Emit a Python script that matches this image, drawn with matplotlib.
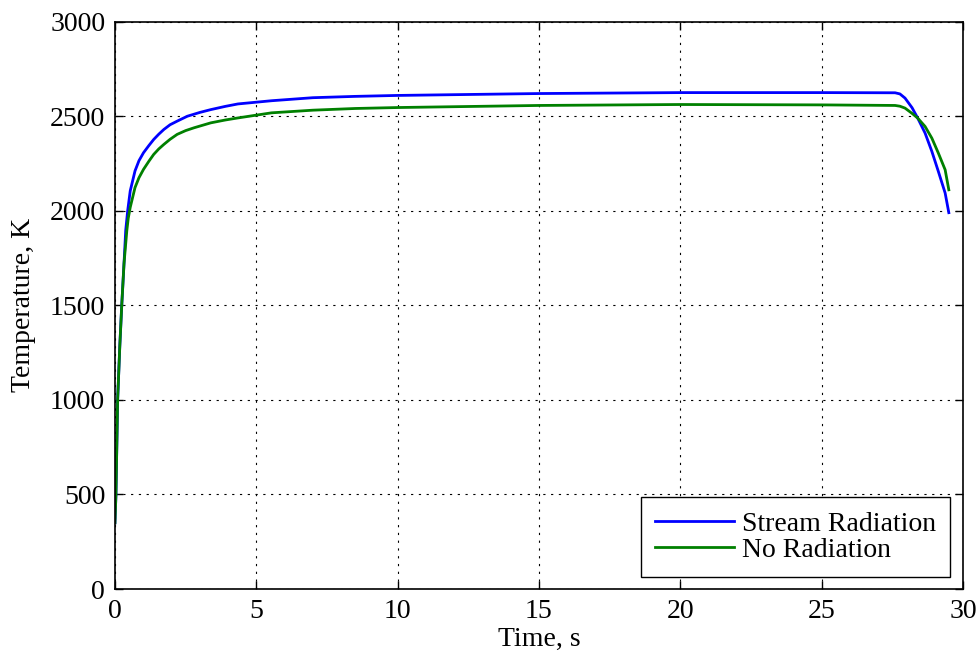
import numpy as np
import matplotlib.pyplot as plt

plt.rcParams['font.family'] = ['Liberation Serif', 'DejaVu Serif']

# time, s and temperature, K
t_stream = [0.0, 0.035, 0.095, 0.17, 0.24, 0.32, 0.38, 0.45, 0.54, 0.71, 0.85, 1.01,
            1.2, 1.37, 1.55, 1.73, 1.95, 2.2, 2.56, 3.0, 3.39, 3.9, 4.35, 5.54, 7.0,
            8.5, 10.0, 15.0, 20.0, 25.0, 27.6, 27.77, 27.95, 28.2, 28.4, 28.66, 28.9,
            29.13, 29.37, 29.5]
T_stream = [350, 500, 1000, 1280, 1500, 1720, 1895, 2000, 2105, 2211, 2265, 2307,
            2345, 2377, 2405, 2430, 2455, 2474, 2500, 2520, 2535, 2552, 2565, 2582, 2598,
            2605, 2610, 2620, 2625, 2625, 2624, 2618, 2596, 2545, 2490, 2411, 2314,
            2208, 2094, 1990]

t_norad = [0.0, 0.035, 0.095, 0.17, 0.24, 0.32, 0.42, 0.47, 0.54, 0.71, 0.85, 1.01,
           1.2, 1.37, 1.55, 1.73, 1.95, 2.2, 2.5, 2.8, 3.39, 3.9, 4.35, 5.54, 7.0,
           8.5, 10.0, 15.0, 20.0, 25.0, 27.6, 27.77, 27.95, 28.2, 28.4, 28.66, 28.9,
           29.13, 29.37, 29.5]
T_norad = [350, 500, 1000, 1280, 1500, 1720, 1895, 1960, 2018, 2123, 2175, 2219,
           2262, 2298, 2327, 2351, 2378, 2404, 2424, 2439, 2465, 2480, 2491, 2518, 2532,
           2541, 2546, 2557, 2562, 2560, 2557, 2553, 2543, 2515, 2490, 2446, 2384,
           2305, 2217, 2111]

fig = plt.figure(figsize=(9.8, 6.57), dpi=100)
ax = fig.add_axes([0.1173, 0.1035, 0.8653, 0.8635])

ax.plot(t_stream, T_stream, color=(0, 0, 1), lw=2, label='Stream Radiation')
ax.plot(t_norad, T_norad, color=(0, 0.5, 0), lw=2, label='No Radiation')

ax.set_xlim(0, 30)
ax.set_ylim(0, 3000)
ax.set_xticks(np.arange(0, 31, 5))
ax.set_yticks(np.arange(0, 3001, 500))
ax.grid(True, color='k', linestyle=(0, (2, 5)), linewidth=0.8)
ax.tick_params(direction='in', top=True, right=True, labelsize=20, length=6, width=1, pad=7)
for s in ax.spines.values():
    s.set_linewidth(1.2)

ax.set_xlabel('Time, s', fontsize=20, labelpad=2)
ax.set_ylabel('Temperature, K', fontsize=20, labelpad=10)

leg = ax.legend(loc='lower right', fontsize=20, fancybox=False, edgecolor='k',
                framealpha=1, handlelength=2.85, handletextpad=0.3, borderpad=0.5,
                labelspacing=0.02, borderaxespad=0.45)
leg.get_frame().set_linewidth(1)

plt.savefig('out.png', dpi=100)
